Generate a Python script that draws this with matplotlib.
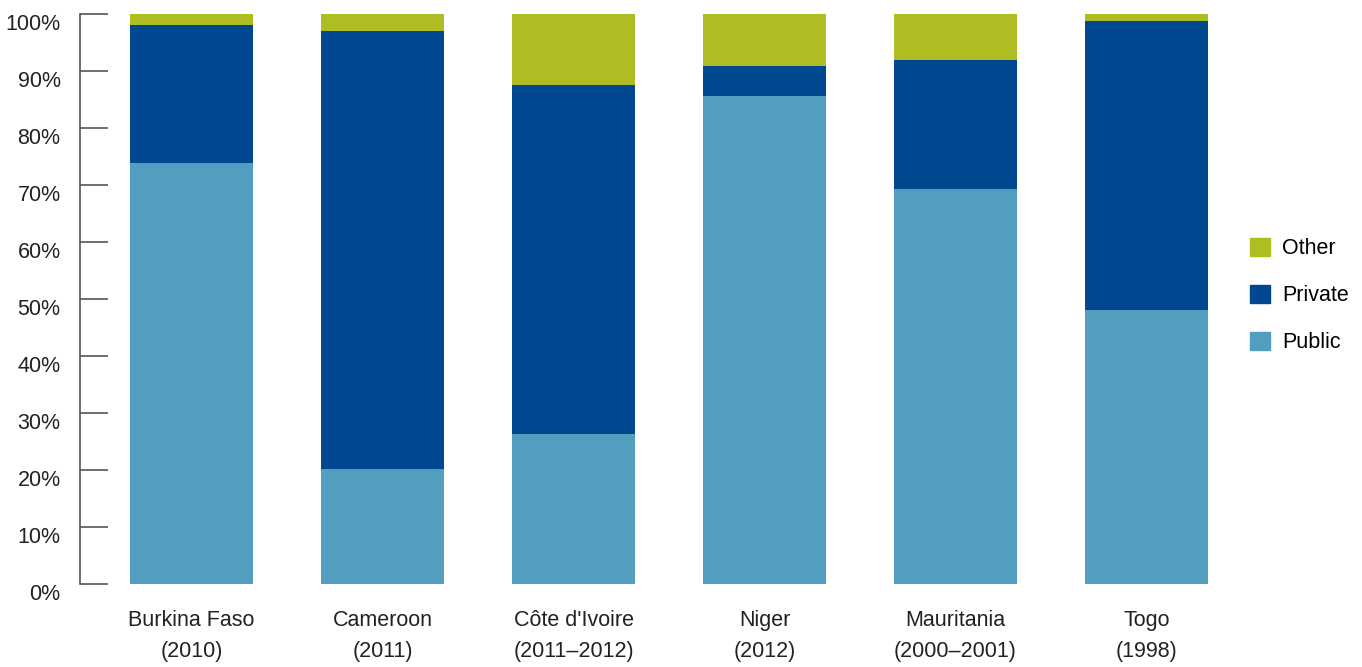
import matplotlib.pyplot as plt
from matplotlib.patches import Patch

plt.rcParams['font.family'] = ['Liberation Sans', 'DejaVu Sans']

countries = ['Burkina Faso\n(2010)', 'Cameroon\n(2011)', "Côte d'Ivoire\n(2011–2012)",
             'Niger\n(2012)', 'Mauritania\n(2000–2001)', 'Togo\n(1998)']
public = [73.9, 20.2, 26.3, 85.6, 69.3, 48.1]
private = [24.1, 76.8, 61.2, 5.3, 22.6, 50.7]
other = [2.0, 3.0, 12.5, 9.1, 8.1, 1.2]

c_public = '#529EBE'
c_private = '#004990'
c_other = '#AFBC22'

fig = plt.figure(figsize=(13.62, 6.67), dpi=100)
ax = fig.add_axes([80 / 1362, 83 / 667, 1150 / 1362, 570 / 667])

x = range(len(countries))
w = 0.644
ax.bar(x, public, w, color=c_public, label='Public')
ax.bar(x, private, w, bottom=public, color=c_private, label='Private')
bottom2 = [a + b for a, b in zip(public, private)]
ax.bar(x, other, w, bottom=bottom2, color=c_other, label='Other')

ax.set_xlim(-0.584, 5.437)
ax.set_ylim(0, 100)
ax.set_yticks(range(0, 101, 10))
ax.set_yticklabels([f'{v}%' for v in range(0, 101, 10)], fontsize=15.5, color='#222222')
for lab in ax.get_yticklabels():
    lab.set_verticalalignment('top')
    lab.set_y(lab.get_position()[1])
ax.tick_params(axis='y', direction='in', length=20, width=1.2, color='#555555', pad=14)
ax.set_xticks(list(x))
ax.set_xticklabels(countries, fontsize=15.5, color='#222222', linespacing=1.6)
ax.tick_params(axis='x', length=0, pad=19)

for s in ['top', 'right', 'bottom']:
    ax.spines[s].set_visible(False)
ax.spines['left'].set_color('#555555')
ax.spines['left'].set_linewidth(1.2)

handles = [Patch(color=c_other), Patch(color=c_private), Patch(color=c_public)]
fig.legend(handles, ['Other', 'Private', 'Public'], loc='center left',
           bbox_to_anchor=(1250 / 1362, 0.557), frameon=False, fontsize=15.5,
           handlelength=0.93, handleheight=0.93, handletextpad=0.56,
           labelspacing=1.19, borderpad=0, borderaxespad=0)

plt.savefig('out.png', dpi=100)
